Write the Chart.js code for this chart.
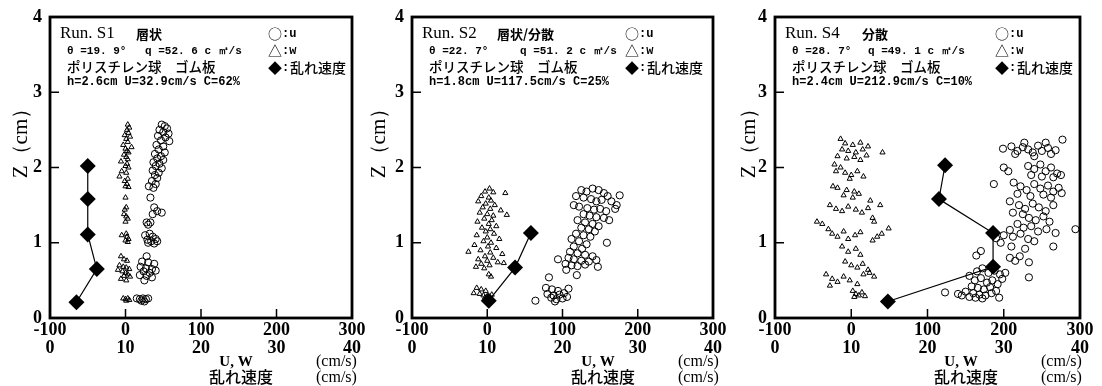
<!DOCTYPE html>
<html>
<head>
<meta charset="utf-8">
<script src="https://cdn.jsdelivr.net/npm/chart.js@4/dist/chart.umd.min.js"></script>
<style>
  body { margin: 0; background: #fff; width: 1102px; height: 386px; overflow: hidden; position: relative; }
  canvas { position: absolute; top: 0; }
</style>
</head>
<body>
<canvas id="c1"></canvas>
<canvas id="c2"></canvas>
<canvas id="c3"></canvas>
<script>
/* ---------- data : [U or W (cm/s), Z (cm)] ; turbulence : [乱れ速度 (cm/s), Z (cm)] ---------- */
const s1_u = [[48,2.57],[52,2.55],[55,2.52],[45,2.5],[50,2.47],[57,2.45],[43,2.42],[53,2.4],[47,2.36],[58,2.35],[41,2.3],[50,2.28],
  [44,2.24],[52,2.2],[39,2.18],[47,2.15],[42,2.12],[50,2.1],[37,2.07],[45,2.05],[40,2.02],[48,1.99],[36,1.96],[44,1.93],[39,1.9],
  [42,1.86],[35,1.82],[40,1.78],[31,1.75],[37,1.73],[33,1.6],[38,1.47],[42,1.42],[48,1.4],[36,1.38],[28,1.27],[33,1.27],[30,1.24],
  [26,1.1],[32,1.12],[36,1.08],[40,1.05],[29,1.04],[34,1.02],[42,1.02],[30,1.0],[38,0.99],[28,0.82],
  [22,0.75],[30,0.74],[38,0.72],[20,0.68],[27,0.66],[35,0.65],[24,0.62],[32,0.6],[40,0.63],[19,0.57],[28,0.56],[35,0.54],[25,0.5],
  [15,0.26],[19,0.25],[23,0.26],[27,0.25],[30,0.26],[21,0.23],[25,0.22]];
const s1_w = [[3,2.57],[5,2.53],[2,2.5],[4,2.46],[-1,2.43],[6,2.41],[1,2.38],[3,2.34],[-3,2.3],[8,2.27],[0,2.25],[2,2.22],[4,2.2],
  [-2,2.17],[1,2.14],[3,2.11],[-6,2.08],[2,2.05],[0,2.02],[4,2.0],[-5,1.95],[1,1.93],[-8,1.88],[3,1.85],[-1,1.82],[2,1.78],[0,1.75],
  [4,1.74],[0,1.6],[1,1.47],[-1,1.44],[-2,1.38],[1,1.35],[3,1.32],[0,1.28],[-5,1.1],[1,1.12],[2,1.08],[4,1.05],[0,1.03],[3,1.01],
  [-6,0.82],[-2,0.78],[2,0.76],[-8,0.7],[-3,0.68],[1,0.67],[5,0.65],[-10,0.64],[-4,0.62],[0,0.6],[3,0.58],[-2,0.56],[6,0.55],
  [-6,0.52],[1,0.5],[-3,0.26],[0,0.25],[3,0.26],[5,0.24],[1,0.23]];
const s1_turb = [[3.5,0.21],[6.2,0.65],[5.0,1.11],[5.0,1.58],[5.0,2.02]];

const s2_u = [[125,1.7],[132,1.68],[140,1.72],[148,1.7],[155,1.66],[160,1.62],[176,1.63],[118,1.62],[128,1.6],[138,1.58],[145,1.55],
  [152,1.57],[165,1.55],[172,1.5],[170,1.45],[115,1.5],[122,1.48],[133,1.46],[142,1.44],[150,1.45],[158,1.42],[128,1.38],[136,1.36],
  [145,1.34],[155,1.33],[162,1.3],[120,1.3],[130,1.27],[140,1.25],[148,1.22],[125,1.2],[135,1.18],[143,1.15],[118,1.12],[128,1.1],
  [137,1.08],[159,1.0],[112,1.05],[122,1.02],[132,0.98],[115,0.95],[126,0.92],[110,0.88],[120,0.86],[130,0.84],[140,0.82],[108,0.8],
  [115,0.78],[125,0.76],[135,0.75],[145,0.77],[104,0.72],[112,0.7],[120,0.69],[130,0.71],[147,0.68],[94,0.78],[105,0.64],[119,0.57],
  [82,0.54],[78,0.4],[86,0.38],[94,0.36],[108,0.39],[80,0.32],[88,0.3],[96,0.31],[102,0.33],[85,0.27],[92,0.25],[100,0.26],
  [106,0.28],[64,0.23],[90,0.22]];
const s2_w = [[3,1.72],[-3,1.68],[8,1.67],[-8,1.62],[2,1.6],[24,1.66],[-12,1.55],[5,1.56],[-2,1.52],[10,1.5],[-6,1.47],[4,1.45],
  [18,1.43],[-10,1.4],[0,1.38],[8,1.36],[26,1.37],[-4,1.32],[6,1.3],[-13,1.28],[2,1.25],[12,1.22],[-7,1.2],[4,1.18],[-2,1.15],
  [9,1.12],[-14,1.1],[0,1.07],[16,1.05],[-5,1.02],[5,1.0],[-17,0.97],[1,0.95],[12,0.93],[-9,0.9],[-25,0.88],[4,0.87],[20,0.85],
  [-3,0.82],[8,0.8],[-12,0.78],[0,0.76],[14,0.74],[22,0.73],[-8,0.72],[3,0.7],[-15,0.68],[-4,0.66],[2,0.58],[5,0.55],[-14,0.4],
  [-8,0.38],[-2,0.36],[-18,0.33],[-10,0.32],[-5,0.3],[0,0.29],[6,0.31],[-3,0.27]];
const s2_turb = [[10.2,0.23],[13.7,0.67],[15.8,1.13]];

const s4_u = [[277,2.37],[255,2.33],[227,2.33],[199,2.25],[210,2.28],[218,2.22],[225,2.27],[232,2.24],[238,2.2],[245,2.29],[250,2.22],
  [258,2.26],[262,2.18],[268,2.23],[215,2.18],[240,2.15],[200,2.0],[206,1.95],[232,2.02],[240,1.98],[248,2.04],[255,1.95],[262,2.0],
  [270,1.92],[236,1.9],[250,1.88],[265,1.87],[275,1.9],[187,1.78],[213,1.8],[222,1.75],[230,1.7],[240,1.78],[248,1.72],[258,1.76],
  [265,1.68],[272,1.73],[218,1.65],[235,1.62],[252,1.64],[262,1.6],[276,1.66],[208,1.55],[220,1.5],[228,1.45],[238,1.52],[246,1.47],
  [255,1.42],[265,1.5],[212,1.4],[225,1.38],[233,1.33],[242,1.3],[252,1.35],[260,1.28],[208,1.17],[218,1.25],[226,1.2],[236,1.22],
  [245,1.15],[256,1.18],[268,1.13],[294,1.18],[200,1.1],[212,1.08],[222,1.12],[232,1.05],[240,1.02],[190,1.06],[196,1.0],[210,0.95],
  [228,0.92],[265,0.95],[170,0.89],[164,0.83],[208,0.8],[215,0.76],[221,0.82],[233,0.74],[233,0.54],
  [165,0.62],[172,0.66],[180,0.6],[188,0.63],[195,0.58],[202,0.6],[198,0.52],[155,0.56],[162,0.5],[170,0.53],[178,0.47],[185,0.5],
  [192,0.45],[158,0.42],[166,0.4],[174,0.38],[182,0.41],[190,0.36],[150,0.35],[160,0.33],[168,0.31],[176,0.3],[184,0.33],[145,0.3],
  [155,0.28],[163,0.27],[172,0.26],[123,0.34],[194,0.27],[140,0.32]];
const s4_w = [[-14,2.38],[-8,2.32],[2,2.3],[12,2.33],[22,2.28],[-12,2.24],[-4,2.22],[6,2.2],[15,2.24],[41,2.2],[-18,2.15],[-6,2.12],
  [4,2.14],[12,2.1],[20,2.16],[-22,2.04],[-14,2.0],[-20,1.95],[-8,1.93],[0,1.9],[8,1.95],[16,1.88],[-2,1.85],[-24,1.75],[-18,1.73],
  [-6,1.7],[4,1.68],[-10,1.63],[2,1.6],[10,1.65],[25,1.56],[-28,1.5],[-20,1.45],[-12,1.42],[-4,1.48],[6,1.44],[14,1.4],[22,1.46],
  [38,1.5],[28,1.33],[30,1.28],[-45,1.28],[-38,1.25],[-30,1.18],[-25,1.12],[-18,1.08],[-10,1.15],[-4,1.05],[5,1.1],[12,1.14],
  [49,1.19],[28,1.03],[34,1.08],[40,1.12],[-12,0.95],[-4,0.88],[6,0.92],[12,0.84],[-8,0.75],[0,0.7],[8,0.67],[15,0.72],[22,0.64],
  [-33,0.58],[-25,0.52],[-18,0.48],[-10,0.55],[-2,0.5],[8,0.45],[16,0.58],[24,0.6],[30,0.55],[-28,0.43],
  [2,0.36],[6,0.32],[10,0.3],[14,0.34],[4,0.28],[18,0.29]];
const s4_turb = [[14.8,0.22],[28.6,0.68],[28.6,1.13],[21.5,1.58],[22.3,2.03]];

const uwTicks = [-100, 0, 100, 200, 300];
const turbTicks = [0, 10, 20, 30, 40];
const zTicks = [0, 1, 2, 3, 4];

/* ---------- panel texts ---------- */
const panels = [
  { id: 'c1', canvasLeft: 0,   plotLeft: 50,  plotWidth: 302, run: 'Run. S1', kind: '層状',     kindX: 86,
    theta: 'θ =19. 9°', q: 'q =52. 6 c ㎡/s', qX: 95, cond: 'h=2.6cm U=32.9cm/s C=62%', legX: 218, zX: 29,
    u: s1_u, w: s1_w, turb: s1_turb },
  { id: 'c2', canvasLeft: 362, plotLeft: 412, plotWidth: 301, run: 'Run. S2', kind: '層状/分散', kindX: 85,
    theta: 'θ =22. 7°', q: 'q =51. 2 c ㎡/s', qX: 108, cond: 'h=1.8cm U=117.5cm/s C=25%', legX: 213, zX: 33,
    u: s2_u, w: s2_w, turb: s2_turb },
  { id: 'c3', canvasLeft: 725, plotLeft: 775, plotWidth: 305, run: 'Run. S4', kind: '分散',     kindX: 87,
    theta: 'θ =28. 7°', q: 'q =49. 1 c ㎡/s', qX: 93, cond: 'h=2.4cm U=212.9cm/s C=10%', legX: 220, zX: 26,
    u: s4_u, w: s4_w, turb: s4_turb }
];

const SERIF = '"Liberation Serif", "DejaVu Serif", serif';
const JP = '"Noto Sans CJK JP", sans-serif';
const MONO = '"Liberation Mono", "DejaVu Sans Mono", monospace';
const H = 386, TOP = 16, BOTTOM = 318;

const toPts = (arr) => arr.map(p => ({ x: p[0], y: p[1] }));

/* frame, inside ticks and all the lettering */
const decor = {
  id: 'decor',
  afterDraw(chart, args, o) {
    const ctx = chart.ctx, a = chart.chartArea, L = a.left, T = a.top;
    const sx = chart.scales.x, sy = chart.scales.y;
    ctx.save();
    ctx.strokeStyle = '#000';
    ctx.fillStyle = '#000';
    ctx.lineWidth = 1.5;
    ctx.beginPath();
    [0, 100, 200].forEach(v => {
      const px = sx.getPixelForValue(v);
      ctx.moveTo(px, a.bottom); ctx.lineTo(px, a.bottom - 9);
    });
    [1, 2, 3].forEach(v => {
      const py = sy.getPixelForValue(v);
      ctx.moveTo(L, py); ctx.lineTo(L + 9, py);
    });
    ctx.stroke();
    ctx.lineWidth = 2.8;
    ctx.strokeRect(L, T, a.right - L, a.bottom - T);

    ctx.textBaseline = 'middle';
    ctx.textAlign = 'left';
    ctx.font = '17px ' + SERIF;
    ctx.fillText(o.run, L + 10, T + 17);
    ctx.font = 'bold 13px ' + JP;
    ctx.fillText(o.kind, L + o.kindX, T + 17);
    ctx.font = 'bold 11px ' + MONO;
    ctx.fillText(o.theta, L + 17, T + 34);
    ctx.fillText(o.q, L + o.qX, T + 34);
    ctx.font = '500 13.5px ' + JP;
    ctx.fillText('ポリスチレン球　ゴム板', L + 17, T + 50);
    ctx.font = 'bold 12px ' + MONO;
    ctx.fillText(o.cond, L + 17, T + 65);

    ctx.font = '14px ' + JP;
    ctx.fillText('○', L + o.legX, T + 17);
    ctx.fillText('△', L + o.legX, T + 34);
    ctx.fillText('◆', L + o.legX, T + 51);
    ctx.font = 'bold 12px ' + MONO;
    ctx.fillText(':u', L + o.legX + 14, T + 17);
    ctx.fillText(':w', L + o.legX + 14, T + 34);
    ctx.fillText(':', L + o.legX + 14, T + 51);
    ctx.font = '500 14px ' + JP;
    ctx.fillText('乱れ速度', L + o.legX + 22, T + 51);

    // axis lettering
    ctx.save();
    ctx.translate(L - o.zX, 138);
    ctx.rotate(-Math.PI / 2);
    ctx.textAlign = 'center';
    ctx.font = '21px ' + SERIF;
    ctx.fillText('Z（cm）', 0, 0);
    ctx.restore();

    ctx.textAlign = 'center';
    ctx.font = 'bold 15px ' + SERIF;
    ctx.fillText('U, W', L + 186, 362);
    ctx.font = '500 16px ' + JP;
    ctx.fillText('乱れ速度', L + 191, 377);
    ctx.textAlign = 'left';
    ctx.font = '16px ' + SERIF;
    ctx.fillText('(cm/s)', L + 266, 362);
    ctx.fillText('(cm/s)', L + 266, 378);
    ctx.restore();
  }
};

const tickFont = { family: SERIF, size: 18, weight: 'bold', lineHeight: 1 };

panels.forEach(p => {
  const cv = document.getElementById(p.id);
  const rightPad = 20;
  cv.width = 50 + p.plotWidth + rightPad;
  cv.height = H;
  cv.style.left = p.canvasLeft + 'px';

  new Chart(cv, {
    type: 'scatter',
    plugins: [decor],
    data: {
      datasets: [
        {
          label: '乱れ速度', data: toPts(p.turb), xAxisID: 'x2',
          showLine: true, borderColor: '#000', borderWidth: 1.2,
          pointStyle: 'rectRot', pointRadius: 8, pointBackgroundColor: '#000', pointBorderColor: '#000', pointBorderWidth: 0
        },
        {
          label: 'u', data: toPts(p.u), xAxisID: 'x',
          pointStyle: 'circle', pointRadius: 3.6, pointBackgroundColor: 'rgba(0,0,0,0)', pointBorderColor: '#000', pointBorderWidth: 1
        },
        {
          label: 'w', data: toPts(p.w), xAxisID: 'x',
          pointStyle: 'triangle', pointRadius: 3, pointBackgroundColor: 'rgba(0,0,0,0)', pointBorderColor: '#000', pointBorderWidth: 1
        }
      ]
    },
    options: {
      responsive: false,
      animation: false,
      layout: { padding: { top: TOP, right: rightPad, bottom: H - BOTTOM - 21 - 17, left: 0 } },
      plugins: {
        legend: { display: false },
        tooltip: { enabled: false },
        decor: p
      },
      scales: {
        x: {
          type: 'linear', position: 'bottom', weight: 0,
          min: uwTicks[0], max: uwTicks[uwTicks.length - 1],
          afterBuildTicks: s => { s.ticks = uwTicks.map(v => ({ value: v })); },
          ticks: { padding: 3, color: '#000', font: tickFont, maxRotation: 0, autoSkip: false },
          grid: { display: false, drawTicks: false },
          border: { display: false },
          afterFit: s => { s.height = 21; }
        },
        x2: {
          type: 'linear', position: 'bottom', weight: 1,
          min: turbTicks[0], max: turbTicks[turbTicks.length - 1],
          afterBuildTicks: s => { s.ticks = turbTicks.map(v => ({ value: v })); },
          ticks: { padding: 0, color: '#000', font: tickFont, maxRotation: 0, autoSkip: false },
          grid: { display: false, drawTicks: false },
          border: { display: false },
          afterFit: s => { s.height = 17; }
        },
        y: {
          type: 'linear', position: 'left',
          min: zTicks[0], max: zTicks[zTicks.length - 1],
          afterBuildTicks: s => { s.ticks = zTicks.map(v => ({ value: v })); },
          ticks: { padding: 8, color: '#000', font: tickFont },
          grid: { display: false, drawTicks: false },
          border: { display: false },
          afterFit: s => { s.width = 50; }
        }
      }
    }
  });
});
</script>
</body>
</html>
